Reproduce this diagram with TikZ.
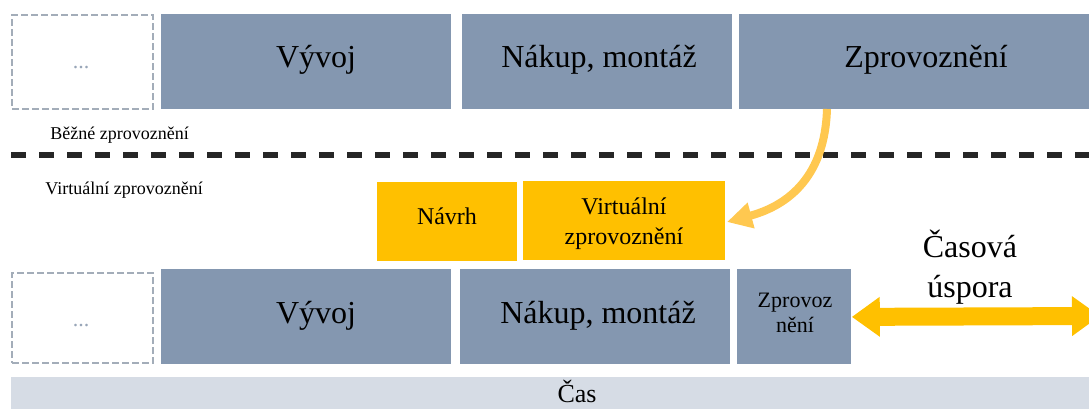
\documentclass[tikz,border=0pt]{standalone}
\usepackage{fontspec}
\setmainfont{Liberation Serif}
\usetikzlibrary{arrows.meta}
\definecolor{bluegray}{HTML}{8497B0}
\definecolor{gold}{HTML}{FFC000}
\definecolor{lightbar}{HTML}{D6DCE5}
\definecolor{dashgray}{HTML}{A3ADB9}
\definecolor{softorange}{HTML}{FFC850}
\definecolor{dotgray}{HTML}{98A6B8}
\begin{document}
\begin{tikzpicture}[x=0.5pt,y=-0.5pt,
  blk/.style={fill=bluegray, draw=none, inner sep=0pt, anchor=north west, minimum height=47.5pt},
  ylw/.style={fill=gold, draw=none, inner sep=0pt, anchor=north west, minimum height=39.5pt},
  dbox/.style={draw=dashgray, line width=1pt, dash pattern=on 3.5pt off 1.5pt, inner sep=0pt, anchor=north west, minimum width=70.5pt},
  bigtxt/.style={font=\fontsize{16}{20}\selectfont, inner sep=0pt, anchor=base},
  midtxt/.style={font=\fontsize{12}{15}\selectfont, inner sep=0pt, align=center},
  smalltxt/.style={font=\fontsize{9}{11}\selectfont, inner sep=0pt, anchor=base west},
  dots/.style={font=\fontsize{11}{13}\selectfont, text=dotgray, inner sep=0pt},
  sepline/.style={draw=black!85, line width=3pt, dash pattern=on 7.5pt off 6.5pt},
  bigarrow/.style={draw=gold, line width=9pt, {Triangle[length=14pt,width=19pt]}-{Triangle[length=14pt,width=19pt]}},
  curvearrow/.style={draw=softorange, line width=4pt, -{Triangle[length=12.5pt,width=12.5pt]}}
]
\useasboundingbox (0,0) rectangle (1089,408);
\clip (0,0) rectangle (1089,408);

% top row
\node[dbox, minimum height=47pt] (d1) at (11,14) {};
\node[dots] (d1t) at (81,68) {...};
\node[blk, minimum width=145pt] (v1) at (161,14) {};
\node[blk, minimum width=135pt] (n1) at (462,14) {};
\node[blk, minimum width=175pt] (z1) at (739,14) {};
\node[bigtxt] (v1t) at (316,67) {Vývoj};
\node[bigtxt] (n1t) at (599,67) {Nákup, montáž};
\node[bigtxt] (z1t) at (926,67) {Zprovoznění};

% labels and separator
\node[smalltxt] (lab1) at (50,139) {Běžné zprovoznění};
\coordinate (sepL) at (11,155);
\coordinate (sepR) at (1089,155);
\draw[sepline] (sepL) -- (sepR);
\node[smalltxt] (lab2) at (45,194) {Virtuální zprovoznění};

% yellow boxes
\node[ylw, minimum width=70pt] (nav) at (377,182) {};
\node[ylw, minimum width=101pt] (virt) at (523,181) {};
\node[midtxt, anchor=base] (navt) at (447,224) {Návrh};
\node[midtxt, anchor=base] (virtt) at (624,244) {Virtuální\\zprovoznění};

% bottom row
\node[dbox, minimum height=45pt] (d2) at (11,272) {};
\node[dots] (d2t) at (81,326) {...};
\node[blk, minimum width=145pt] (v2) at (161,269) {};
\node[blk, minimum width=135pt] (n2) at (460,269) {};
\node[blk, minimum width=57pt] (z2) at (737,269) {};
\node[bigtxt] (v2t) at (316,323) {Vývoj};
\node[bigtxt] (n2t) at (598,323) {Nákup, montáž};
\node[font=\fontsize{11}{12.5}\selectfont, inner sep=0pt, align=center, anchor=base] (z2t) at (795,332) {Zprovoz\\nění};

% time bar
\node[fill=lightbar, draw=none, inner sep=0pt, anchor=north west, minimum width=539pt, minimum height=20pt] (bar) at (11,377) {};
\node[font=\fontsize{13}{15}\selectfont, inner sep=0pt, anchor=base] (bart) at (577,402) {Čas};

% saving arrow
\coordinate (arEnd) at (1100,316);
\draw[bigarrow] (z2.east) -- (arEnd);
\node[font=\fontsize{16}{20}\selectfont, inner sep=0pt, align=center, anchor=base] (sav) at (970,297) {Časová\\úspora};

% curved arrow
\coordinate (cs) at (827,109);
\coordinate (ce) at (727,222);
\draw[curvearrow] (cs) .. controls (825,175) and (790,205) .. (ce);
\end{tikzpicture}
\end{document}
